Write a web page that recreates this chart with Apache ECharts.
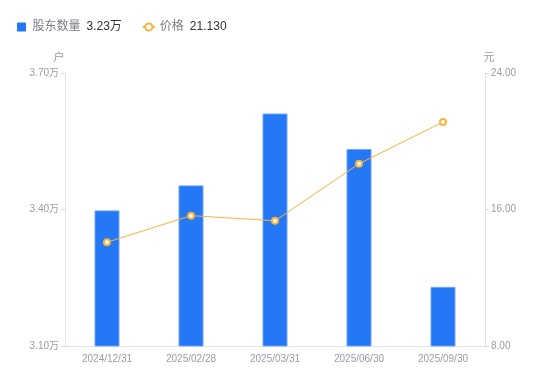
<!DOCTYPE html>
<html>
<head>
<meta charset="utf-8">
<script src="https://cdn.jsdelivr.net/npm/echarts@6/dist/echarts.min.js"></script>
<style>
  html, body { margin: 0; padding: 0; background: #fff; }
  #main { width: 550px; height: 381px; }
</style>
</head>
<body>
<div id="main"></div>
<script>
// 股东户数 / 价格
var categories = ['2024/12/31', '2025/02/28', '2025/03/31', '2025/06/30', '2025/09/30'];
var holders = [3.398, 3.453, 3.611, 3.533, 3.23];   // 万户
var prices = [14.08, 15.64, 15.34, 18.68, 21.13];   // 元
var leftTicks = [3.10, 3.70, 0.30];   // min, max, interval
var rightTicks = [8, 24, 8];

var myChart = echarts.init(document.getElementById('main'));
var gray = '#9a9aa8';
var font = '"Liberation Sans", Arial, "Noto Sans CJK SC", sans-serif';
var axisLine = { show: true, lineStyle: { color: '#e3e3e8' } };

var option = {
  backgroundColor: '#fff',
  animation: false,
  textStyle: { fontFamily: font },
  legend: {
    left: 12,
    top: 16,
    itemGap: 20,
    itemWidth: 12,
    itemHeight: 9,
    data: [
      { name: '股东数量', icon: 'path://M1,0H9Q10,0 10,1V9Q10,10 9,10H1Q0,10 0,9V1Q0,0 1,0Z', itemStyle: { borderWidth: 0 } },
      { name: '价格' }
    ],
    formatter: function (name) {
      if (name === '股东数量') {
        return '{a|' + name + '}{b|' + holders[holders.length - 1].toFixed(2) + '万}';
      }
      return '{a|' + name + '}{b|' + prices[prices.length - 1].toFixed(3) + '}';
    },
    textStyle: {
      fontFamily: font,
      rich: {
        a: { color: '#7a7a88', fontSize: 12, fontFamily: font, padding: [0, 6, 0, 0] },
        b: { color: '#333', fontSize: 12, fontFamily: font }
      }
    }
  },
  grid: { left: 65, right: 65, top: 73, bottom: 35 },
  xAxis: {
    type: 'category',
    data: categories,
    axisLine: axisLine,
    axisTick: { show: false },
    axisLabel: { color: gray, fontSize: 10, margin: 8 }
  },
  yAxis: [
    {
      type: 'value',
      name: '户',
      nameGap: 10,
      nameTextStyle: { color: gray, fontSize: 11, padding: [0, 0, 0, -12] },
      min: leftTicks[0],
      max: leftTicks[1],
      interval: leftTicks[2],
      splitLine: { show: false },
      axisLine: axisLine,
      axisTick: { show: true, length: 4, lineStyle: { color: '#d8d8de' } },
      axisLabel: {
        color: gray, fontSize: 10, margin: 6,
        formatter: function (v) { return v.toFixed(2) + '万'; }
      }
    },
    {
      type: 'value',
      name: '元',
      nameGap: 10,
      nameTextStyle: { color: gray, fontSize: 11, padding: [0, 0, 0, 8] },
      min: rightTicks[0],
      max: rightTicks[1],
      interval: rightTicks[2],
      splitLine: { show: false },
      axisLine: axisLine,
      axisTick: { show: true, length: 4, lineStyle: { color: '#d8d8de' } },
      axisLabel: {
        color: gray, fontSize: 10, margin: 6,
        formatter: function (v) { return v.toFixed(2); }
      }
    }
  ],
  series: [
    {
      name: '股东数量',
      type: 'bar',
      yAxisIndex: 0,
      barWidth: 25,
      data: holders,
      itemStyle: { color: '#2477f5', borderColor: '#6ea5fa', borderWidth: 1 }
    },
    {
      name: '价格',
      type: 'line',
      yAxisIndex: 1,
      data: prices,
      symbol: 'emptyCircle',
      symbolSize: 6,
      lineStyle: { color: '#f8b33c', width: 1 },
      itemStyle: { color: '#f8b33c', borderWidth: 2 }
    }
  ]
};
myChart.setOption(option);
</script>
</body>
</html>
